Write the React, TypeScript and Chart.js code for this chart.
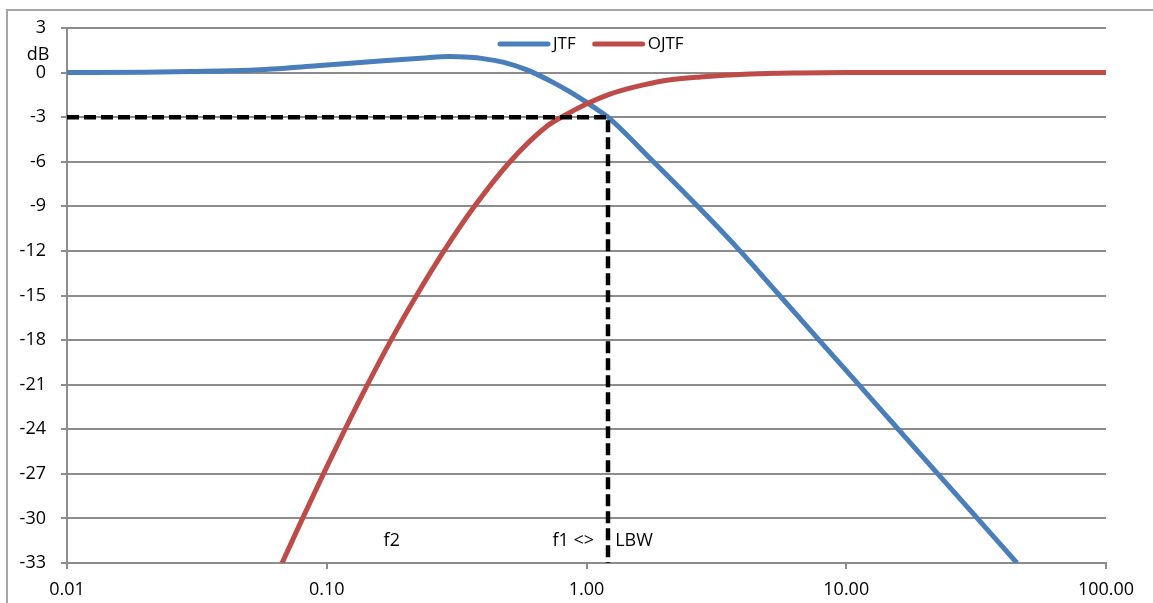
import React, { useEffect, useRef } from "react";
import { Chart, registerables } from "chart.js";

Chart.register(...registerables);

// ---- data ----
const jtfFreq = [0.01, 0.02, 0.03, 0.0506, 0.0917, 0.1647, 0.23, 0.298, 0.356, 0.3995, 0.477, 0.59, 0.645, 0.743, 0.864, 1.004, 1.157, 1.21, 1.81, 2.68, 3.9, 5.54, 7.86, 11.17, 15.86, 22.52, 31.98, 45.4];
const jtfDb = [0, 0.03, 0.07, 0.16, 0.46, 0.8, 0.97, 1.09, 1.03, 0.94, 0.7, 0.18, -0.12, -0.66, -1.3, -2.02, -2.75, -3, -6, -9, -12, -15, -18, -21, -24, -27, -30, -33];

const ojtfFreq = [0.0673, 0.0807, 0.0971, 0.1176, 0.1435, 0.1768, 0.2216, 0.2828, 0.3705, 0.5076, 0.705, 0.81, 1.004, 1.231, 1.51, 2.04, 2.74, 4.26, 6.64, 10, 20, 100];
const ojtfDb = [-33, -30, -27, -24, -21, -18, -15, -12, -9, -6, -3.6, -2.95, -2.1, -1.45, -1.0, -0.52, -0.29, -0.09, -0.02, 0, 0, 0];

const lbwFreq = [0.01, 1.21, 1.21];
const lbwDb = [-3, -3, -33];

const xTickValues = [0.01, 0.1, 1, 10, 100];
const yMin = -33;
const yMax = 3;
const yStep = 3;

const seriesNames = ["JTF", "OJTF"];
const seriesColors = ["#4a7ebb", "#be4b48"];

const annotationTexts = ["f2", "f1 <>", "LBW"];
const annotationFreq = [0.178, 1.07, 1.29];
const annotationDb = [-31.5, -31.5, -31.5];
const annotationAlign = ["center", "right", "left"];

const FONT = "'Open Sans', 'DejaVu Sans', sans-serif";
const GRID = "#8c8c8c";

const toXY = (xs: number[], ys: number[]) => xs.map((x, i) => ({ x, y: ys[i] }));

const decorPlugin = {
  id: "decor",
  beforeDraw(chart: any) {
    const ctx = chart.ctx;
    ctx.save();
    ctx.fillStyle = "#ffffff";
    ctx.fillRect(0, 0, chart.width, chart.height);
    ctx.strokeStyle = "#a6a6a6";
    ctx.lineWidth = 2;
    ctx.beginPath();
    ctx.moveTo(7, chart.height);
    ctx.lineTo(7, 10);
    ctx.lineTo(chart.width, 10);
    ctx.stroke();
    ctx.restore();
  },
  afterDraw(chart: any) {
    const ctx = chart.ctx;
    const xs = chart.scales.x;
    const ys = chart.scales.y;
    const area = chart.chartArea;
    ctx.save();
    ctx.fillStyle = "#000";
    ctx.font = `18px ${FONT}`;
    ctx.textBaseline = "middle";
    // annotations
    annotationTexts.forEach((t, i) => {
      ctx.textAlign = annotationAlign[i] as CanvasTextAlign;
      ctx.fillText(t, xs.getPixelForValue(annotationFreq[i]), ys.getPixelForValue(annotationDb[i]));
    });
    // dB unit label
    ctx.textAlign = "center";
    ctx.fillText("dB", 38, ys.getPixelForValue(1.2));
    // legend
    let lx = area.left + 431;
    const ly = area.top + 16;
    ctx.font = `17px ${FONT}`;
    ctx.textAlign = "left";
    seriesNames.forEach((name, i) => {
      ctx.strokeStyle = seriesColors[i];
      ctx.lineWidth = 5;
      ctx.lineCap = "round";
      ctx.beginPath();
      ctx.moveTo(lx + 2, ly);
      ctx.lineTo(lx + 50, ly);
      ctx.stroke();
      ctx.fillText(name, lx + 55, ly);
      lx += 55 + ctx.measureText(name).width + 17;
    });
    ctx.restore();
  },
};

export default function App() {
  const ref = useRef<HTMLCanvasElement | null>(null);
  useEffect(() => {
    if (!ref.current) return;
    const chart = new Chart(ref.current, {
      type: "line",
      data: {
        datasets: [
          {
            label: "LBW",
            data: toXY(lbwFreq, lbwDb),
            borderColor: "#000",
            borderWidth: 4.5,
            borderDash: [12, 5],
            pointRadius: 0,
            tension: 0,
            order: 0,
          },
          {
            label: seriesNames[1],
            data: toXY(ojtfFreq, ojtfDb),
            borderColor: seriesColors[1],
            borderWidth: 5,
            pointRadius: 0,
            cubicInterpolationMode: "monotone",
            order: 1,
          },
          {
            label: seriesNames[0],
            data: toXY(jtfFreq, jtfDb),
            borderColor: seriesColors[0],
            borderWidth: 5,
            pointRadius: 0,
            cubicInterpolationMode: "monotone",
            order: 2,
          },
        ],
      },
      options: {
        animation: false,
        responsive: false,
        events: [],
        layout: { padding: { left: 0, top: 28, right: 47, bottom: 0 } },
        plugins: { legend: { display: false }, tooltip: { enabled: false } },
        scales: {
          x: {
            type: "logarithmic",
            min: 0.01,
            max: 100,
            afterBuildTicks: (s: any) => {
              s.ticks = xTickValues.map((v) => ({ value: v }));
            },
            afterFit: (s: any) => {
              s.height = 40;
            },
            ticks: {
              autoSkip: false,
              maxRotation: 0,
              padding: 10,
              color: "#000",
              font: { family: FONT, size: 18 },
              callback: (v: any) => Number(v).toFixed(2),
            },
            grid: { drawOnChartArea: false, drawTicks: true, tickLength: 6, color: GRID, lineWidth: 2 },
            border: { display: true, color: GRID, width: 2 },
          },
          y: {
            type: "linear",
            min: yMin,
            max: yMax,
            afterFit: (s: any) => {
              s.width = 67;
            },
            ticks: {
              stepSize: yStep,
              padding: 15,
              color: "#000",
              font: { family: FONT, size: 18 },
            },
            grid: { color: GRID, lineWidth: 2, tickLength: 6, drawTicks: true },
            border: { display: true, color: GRID, width: 2 },
          },
        },
      },
      plugins: [decorPlugin],
    } as any);
    return () => chart.destroy();
  }, []);
  return (
    <div style={{ position: "absolute", left: 0, top: 0, width: 1153, height: 603 }}>
      <canvas ref={ref} width={1153} height={603} style={{ display: "block" }} />
    </div>
  );
}
